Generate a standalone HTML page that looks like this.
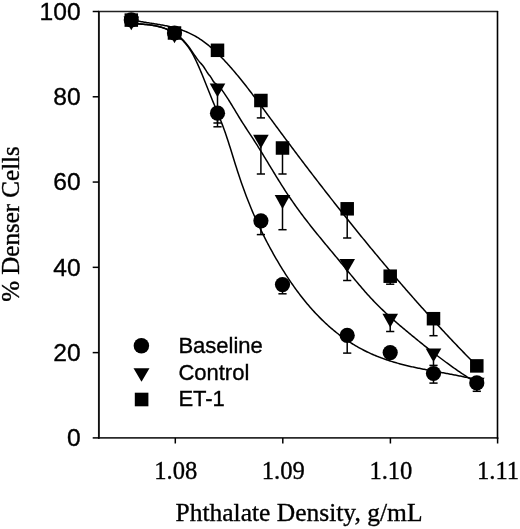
<!DOCTYPE html>
<html><head><meta charset="utf-8"><style>
html,body{margin:0;padding:0;background:#fff;width:520px;height:529px;overflow:hidden;font-family:"Liberation Sans",sans-serif;}
svg{display:block;will-change:transform;} text{stroke:#000;stroke-width:0.35px;}
</style></head><body>
<svg width="520" height="529" viewBox="0 0 520 529">
<rect width="520" height="529" fill="#fff"/>
<path d="M131.3,19.63 L132.3,19.86 L133.3,20.09 L134.3,20.31 L135.3,20.53 L136.3,20.73 L137.3,20.93 L138.3,21.13 L139.3,21.31 L140.3,21.50 L141.3,21.67 L142.3,21.85 L143.3,22.02 L144.3,22.18 L145.3,22.35 L146.3,22.51 L147.3,22.66 L148.3,22.82 L149.3,22.98 L150.3,23.13 L151.3,23.28 L152.3,23.44 L153.3,23.59 L154.3,23.75 L155.3,23.90 L156.3,24.06 L157.3,24.22 L158.3,24.39 L159.3,24.55 L160.3,24.72 L161.3,24.90 L162.3,25.07 L163.3,25.26 L164.3,25.44 L165.3,25.64 L166.3,25.84 L167.3,26.04 L168.3,26.26 L169.3,26.48 L170.3,26.71 L171.3,26.95 L172.3,27.19 L173.3,27.45 L174.3,27.71 L175.3,27.98 L176.3,28.27 L177.3,28.56 L178.3,28.87 L179.3,29.19 L180.3,29.52 L181.3,29.86 L182.3,30.22 L183.3,30.59 L184.3,30.97 L185.3,31.36 L186.3,31.77 L187.3,32.20 L188.3,32.64 L189.3,33.10 L190.3,33.57 L191.3,34.06 L192.3,34.56 L193.3,35.09 L194.3,35.63 L195.3,36.19 L196.3,36.77 L197.3,37.36 L198.3,37.98 L199.3,38.62 L200.3,39.27 L201.3,39.95 L202.3,40.64 L203.3,41.36 L204.3,42.09 L205.3,42.85 L206.3,43.62 L207.3,44.41 L208.3,45.21 L209.3,46.04 L210.3,46.88 L211.3,47.74 L212.3,48.62 L213.3,49.51 L214.3,50.42 L215.3,51.34 L216.3,52.28 L217.3,53.24 L218.3,54.21 L219.3,55.19 L220.3,56.19 L221.3,57.21 L222.3,58.23 L223.3,59.28 L224.3,60.33 L225.3,61.40 L226.3,62.48 L227.3,63.57 L228.3,64.68 L229.3,65.79 L230.3,66.92 L231.3,68.06 L232.3,69.21 L233.3,70.38 L234.3,71.55 L235.3,72.73 L236.3,73.92 L237.3,75.12 L238.3,76.34 L239.3,77.56 L240.3,78.79 L241.3,80.02 L242.3,81.27 L243.3,82.52 L244.3,83.78 L245.3,85.05 L246.3,86.33 L247.3,87.61 L248.3,88.90 L249.3,90.20 L250.3,91.50 L251.3,92.80 L252.3,94.12 L253.3,95.43 L254.3,96.76 L255.3,98.08 L256.3,99.41 L257.3,100.75 L258.3,102.09 L259.3,103.43 L260.3,104.77 L261.3,106.12 L262.3,107.47 L263.3,108.82 L264.3,110.18 L265.3,111.53 L266.3,112.89 L267.3,114.25 L268.3,115.60 L269.3,116.96 L270.3,118.32 L271.3,119.68 L272.3,121.04 L273.3,122.40 L274.3,123.76 L275.3,125.11 L276.3,126.47 L277.3,127.82 L278.3,129.18 L279.3,130.53 L280.3,131.88 L281.3,133.23 L282.3,134.57 L283.3,135.92 L284.3,137.26 L285.3,138.61 L286.3,139.95 L287.3,141.29 L288.3,142.63 L289.3,143.97 L290.3,145.30 L291.3,146.64 L292.3,147.97 L293.3,149.30 L294.3,150.63 L295.3,151.96 L296.3,153.29 L297.3,154.62 L298.3,155.94 L299.3,157.27 L300.3,158.59 L301.3,159.91 L302.3,161.23 L303.3,162.55 L304.3,163.87 L305.3,165.18 L306.3,166.49 L307.3,167.81 L308.3,169.12 L309.3,170.43 L310.3,171.74 L311.3,173.04 L312.3,174.35 L313.3,175.65 L314.3,176.95 L315.3,178.26 L316.3,179.55 L317.3,180.85 L318.3,182.15 L319.3,183.44 L320.3,184.74 L321.3,186.03 L322.3,187.32 L323.3,188.61 L324.3,189.90 L325.3,191.18 L326.3,192.47 L327.3,193.75 L328.3,195.03 L329.3,196.31 L330.3,197.59 L331.3,198.86 L332.3,200.14 L333.3,201.41 L334.3,202.69 L335.3,203.96 L336.3,205.22 L337.3,206.49 L338.3,207.76 L339.3,209.02 L340.3,210.28 L341.3,211.55 L342.3,212.80 L343.3,214.06 L344.3,215.32 L345.3,216.57 L346.3,217.83 L347.3,219.08 L348.3,220.33 L349.3,221.58 L350.3,222.82 L351.3,224.07 L352.3,225.31 L353.3,226.55 L354.3,227.79 L355.3,229.03 L356.3,230.27 L357.3,231.50 L358.3,232.73 L359.3,233.97 L360.3,235.20 L361.3,236.42 L362.3,237.65 L363.3,238.88 L364.3,240.10 L365.3,241.32 L366.3,242.54 L367.3,243.76 L368.3,244.98 L369.3,246.19 L370.3,247.40 L371.3,248.61 L372.3,249.82 L373.3,251.03 L374.3,252.24 L375.3,253.44 L376.3,254.64 L377.3,255.85 L378.3,257.04 L379.3,258.24 L380.3,259.44 L381.3,260.63 L382.3,261.82 L383.3,263.01 L384.3,264.20 L385.3,265.39 L386.3,266.57 L387.3,267.76 L388.3,268.94 L389.3,270.12 L390.3,271.30 L391.3,272.47 L392.3,273.65 L393.3,274.82 L394.3,275.99 L395.3,277.16 L396.3,278.32 L397.3,279.49 L398.3,280.65 L399.3,281.81 L400.3,282.97 L401.3,284.13 L402.3,285.29 L403.3,286.44 L404.3,287.59 L405.3,288.74 L406.3,289.89 L407.3,291.04 L408.3,292.18 L409.3,293.33 L410.3,294.47 L411.3,295.61 L412.3,296.74 L413.3,297.88 L414.3,299.01 L415.3,300.14 L416.3,301.27 L417.3,302.40 L418.3,303.52 L419.3,304.65 L420.3,305.77 L421.3,306.89 L422.3,308.01 L423.3,309.12 L424.3,310.24 L425.3,311.35 L426.3,312.46 L427.3,313.57 L428.3,314.67 L429.3,315.78 L430.3,316.88 L431.3,317.98 L432.3,319.08 L433.3,320.17 L434.3,321.27 L435.3,322.36 L436.3,323.45 L437.3,324.54 L438.3,325.62 L439.3,326.71 L440.3,327.79 L441.3,328.87 L442.3,329.95 L443.3,331.02 L444.3,332.10 L445.3,333.17 L446.3,334.24 L447.3,335.31 L448.3,336.37 L449.3,337.43 L450.3,338.50 L451.3,339.56 L452.3,340.61 L453.3,341.67 L454.3,342.72 L455.3,343.77 L456.3,344.82 L457.3,345.87 L458.3,346.91 L459.3,347.96 L460.3,349.00 L461.3,350.04 L462.3,351.07 L463.3,352.11 L464.3,353.14 L465.3,354.17 L466.3,355.20 L467.3,356.22 L468.3,357.25 L469.3,358.27 L470.3,359.29 L471.3,360.30 L472.3,361.32 L473.3,362.33 L474.3,363.34 L475.3,364.35 L476.3,365.36" fill="none" stroke="#000" stroke-width="1.5" stroke-linejoin="round"/>
<path d="M131.3,23.45 L132.3,23.50 L133.3,23.55 L134.3,23.60 L135.3,23.65 L136.3,23.71 L137.3,23.76 L138.3,23.83 L139.3,23.89 L140.3,23.96 L141.3,24.03 L142.3,24.11 L143.3,24.20 L144.3,24.29 L145.3,24.39 L146.3,24.49 L147.3,24.60 L148.3,24.73 L149.3,24.86 L150.3,25.00 L151.3,25.15 L152.3,25.31 L153.3,25.48 L154.3,25.67 L155.3,25.87 L156.3,26.08 L157.3,26.30 L158.3,26.54 L159.3,26.79 L160.3,27.05 L161.3,27.34 L162.3,27.63 L163.3,27.95 L164.3,28.28 L165.3,28.64 L166.3,29.01 L167.3,29.41 L168.3,29.83 L169.3,30.28 L170.3,30.76 L171.3,31.26 L172.3,31.80 L173.3,32.38 L174.3,32.98 L175.3,33.63 L176.3,34.31 L177.3,35.04 L178.3,35.81 L179.3,36.62 L180.3,37.47 L181.3,38.38 L182.3,39.33 L183.3,40.34 L184.3,41.39 L185.3,42.51 L186.3,43.67 L187.3,44.90 L188.3,46.19 L189.3,47.53 L190.3,48.93 L191.3,50.38 L192.3,51.84 L193.3,53.32 L194.3,54.80 L195.3,56.26 L196.3,57.69 L197.3,59.07 L198.3,60.40 L199.3,61.65 L200.3,62.81 L201.3,63.87 L202.3,64.94 L203.3,66.24 L204.3,67.73 L205.3,69.34 L206.3,70.97 L207.3,72.55 L208.3,73.98 L209.3,75.19 L210.3,76.36 L211.3,77.87 L212.3,79.58 L213.3,81.24 L214.3,82.57 L215.3,83.45 L216.3,84.17 L217.3,84.98 L218.3,85.90 L219.3,86.94 L220.3,88.06 L221.3,89.28 L222.3,90.57 L223.3,91.93 L224.3,93.34 L225.3,94.80 L226.3,96.30 L227.3,97.84 L228.3,99.40 L229.3,101.00 L230.3,102.61 L231.3,104.25 L232.3,105.90 L233.3,107.55 L234.3,109.22 L235.3,110.89 L236.3,112.56 L237.3,114.22 L238.3,115.87 L239.3,117.51 L240.3,119.13 L241.3,120.73 L242.3,122.31 L243.3,123.88 L244.3,125.43 L245.3,126.98 L246.3,128.51 L247.3,130.04 L248.3,131.56 L249.3,133.09 L250.3,134.61 L251.3,136.13 L252.3,137.66 L253.3,139.20 L254.3,140.74 L255.3,142.30 L256.3,143.87 L257.3,145.45 L258.3,147.04 L259.3,148.65 L260.3,150.26 L261.3,151.88 L262.3,153.50 L263.3,155.14 L264.3,156.78 L265.3,158.42 L266.3,160.06 L267.3,161.71 L268.3,163.36 L269.3,165.02 L270.3,166.67 L271.3,168.32 L272.3,169.97 L273.3,171.61 L274.3,173.25 L275.3,174.89 L276.3,176.52 L277.3,178.15 L278.3,179.76 L279.3,181.37 L280.3,182.97 L281.3,184.56 L282.3,186.14 L283.3,187.71 L284.3,189.26 L285.3,190.80 L286.3,192.33 L287.3,193.84 L288.3,195.34 L289.3,196.82 L290.3,198.29 L291.3,199.75 L292.3,201.19 L293.3,202.63 L294.3,204.05 L295.3,205.46 L296.3,206.86 L297.3,208.24 L298.3,209.62 L299.3,210.99 L300.3,212.34 L301.3,213.69 L302.3,215.03 L303.3,216.36 L304.3,217.68 L305.3,218.99 L306.3,220.29 L307.3,221.58 L308.3,222.87 L309.3,224.15 L310.3,225.43 L311.3,226.69 L312.3,227.95 L313.3,229.21 L314.3,230.46 L315.3,231.70 L316.3,232.94 L317.3,234.17 L318.3,235.40 L319.3,236.63 L320.3,237.85 L321.3,239.07 L322.3,240.28 L323.3,241.49 L324.3,242.70 L325.3,243.91 L326.3,245.11 L327.3,246.32 L328.3,247.52 L329.3,248.72 L330.3,249.92 L331.3,251.12 L332.3,252.32 L333.3,253.52 L334.3,254.73 L335.3,255.93 L336.3,257.13 L337.3,258.34 L338.3,259.54 L339.3,260.75 L340.3,261.96 L341.3,263.18 L342.3,264.39 L343.3,265.61 L344.3,266.83 L345.3,268.05 L346.3,269.27 L347.3,270.49 L348.3,271.71 L349.3,272.93 L350.3,274.14 L351.3,275.36 L352.3,276.57 L353.3,277.78 L354.3,278.98 L355.3,280.18 L356.3,281.38 L357.3,282.57 L358.3,283.76 L359.3,284.94 L360.3,286.11 L361.3,287.28 L362.3,288.45 L363.3,289.60 L364.3,290.75 L365.3,291.88 L366.3,293.01 L367.3,294.13 L368.3,295.24 L369.3,296.34 L370.3,297.43 L371.3,298.51 L372.3,299.57 L373.3,300.63 L374.3,301.67 L375.3,302.71 L376.3,303.73 L377.3,304.74 L378.3,305.74 L379.3,306.73 L380.3,307.72 L381.3,308.69 L382.3,309.66 L383.3,310.61 L384.3,311.56 L385.3,312.50 L386.3,313.43 L387.3,314.35 L388.3,315.27 L389.3,316.18 L390.3,317.08 L391.3,317.98 L392.3,318.87 L393.3,319.76 L394.3,320.63 L395.3,321.51 L396.3,322.38 L397.3,323.24 L398.3,324.10 L399.3,324.96 L400.3,325.81 L401.3,326.65 L402.3,327.50 L403.3,328.34 L404.3,329.18 L405.3,330.01 L406.3,330.85 L407.3,331.68 L408.3,332.51 L409.3,333.34 L410.3,334.16 L411.3,334.99 L412.3,335.81 L413.3,336.63 L414.3,337.45 L415.3,338.27 L416.3,339.09 L417.3,339.91 L418.3,340.72 L419.3,341.53 L420.3,342.34 L421.3,343.15 L422.3,343.95 L423.3,344.76 L424.3,345.56 L425.3,346.35 L426.3,347.15 L427.3,347.95 L428.3,348.74 L429.3,349.53 L430.3,350.31 L431.3,351.09 L432.3,351.88 L433.3,352.65 L434.3,353.43 L435.3,354.20 L436.3,354.97 L437.3,355.74 L438.3,356.50 L439.3,357.26 L440.3,358.02 L441.3,358.77 L442.3,359.52 L443.3,360.27 L444.3,361.01 L445.3,361.75 L446.3,362.49 L447.3,363.22 L448.3,363.95 L449.3,364.68 L450.3,365.40 L451.3,366.12 L452.3,366.83 L453.3,367.54 L454.3,368.25 L455.3,368.95 L456.3,369.65 L457.3,370.34 L458.3,371.03 L459.3,371.72 L460.3,372.40 L461.3,373.07 L462.3,373.75 L463.3,374.41 L464.3,375.08 L465.3,375.73 L466.3,376.39 L467.3,377.04 L468.3,377.68 L469.3,378.32 L470.3,378.95 L471.3,379.58 L472.3,380.20 L473.3,380.82 L474.3,381.44 L475.3,382.04 L476.3,382.65" fill="none" stroke="#000" stroke-width="1.5" stroke-linejoin="round"/>
<path d="M131.3,23.36 L132.3,23.47 L133.3,23.57 L134.3,23.66 L135.3,23.74 L136.3,23.82 L137.3,23.90 L138.3,23.97 L139.3,24.04 L140.3,24.11 L141.3,24.18 L142.3,24.25 L143.3,24.32 L144.3,24.40 L145.3,24.48 L146.3,24.57 L147.3,24.66 L148.3,24.76 L149.3,24.87 L150.3,24.98 L151.3,25.11 L152.3,25.25 L153.3,25.41 L154.3,25.57 L155.3,25.75 L156.3,25.95 L157.3,26.16 L158.3,26.40 L159.3,26.65 L160.3,26.92 L161.3,27.21 L162.3,27.52 L163.3,27.86 L164.3,28.22 L165.3,28.61 L166.3,29.02 L167.3,29.46 L168.3,29.93 L169.3,30.42 L170.3,30.95 L171.3,31.51 L172.3,32.11 L173.3,32.73 L174.3,33.39 L175.3,34.09 L176.3,34.82 L177.3,35.59 L178.3,36.40 L179.3,37.25 L180.3,38.14 L181.3,39.08 L182.3,40.05 L183.3,41.08 L184.3,42.15 L185.3,43.29 L186.3,44.49 L187.3,45.77 L188.3,47.12 L189.3,48.56 L190.3,50.08 L191.3,51.71 L192.3,53.43 L193.3,55.25 L194.3,57.17 L195.3,59.17 L196.3,61.25 L197.3,63.41 L198.3,65.63 L199.3,67.91 L200.3,70.24 L201.3,72.62 L202.3,75.04 L203.3,77.49 L204.3,79.97 L205.3,82.46 L206.3,84.97 L207.3,87.49 L208.3,90.00 L209.3,92.51 L210.3,95.01 L211.3,97.48 L212.3,99.93 L213.3,102.36 L214.3,104.77 L215.3,107.18 L216.3,109.59 L217.3,112.02 L218.3,114.46 L219.3,116.94 L220.3,119.45 L221.3,122.00 L222.3,124.61 L223.3,127.28 L224.3,130.02 L225.3,132.84 L226.3,135.75 L227.3,138.74 L228.3,141.80 L229.3,144.92 L230.3,148.09 L231.3,151.29 L232.3,154.51 L233.3,157.74 L234.3,160.96 L235.3,164.16 L236.3,167.33 L237.3,170.45 L238.3,173.52 L239.3,176.53 L240.3,179.49 L241.3,182.39 L242.3,185.24 L243.3,188.04 L244.3,190.79 L245.3,193.49 L246.3,196.14 L247.3,198.74 L248.3,201.30 L249.3,203.81 L250.3,206.28 L251.3,208.70 L252.3,211.09 L253.3,213.43 L254.3,215.74 L255.3,218.01 L256.3,220.24 L257.3,222.44 L258.3,224.60 L259.3,226.73 L260.3,228.83 L261.3,230.90 L262.3,232.94 L263.3,234.95 L264.3,236.93 L265.3,238.89 L266.3,240.83 L267.3,242.74 L268.3,244.63 L269.3,246.49 L270.3,248.34 L271.3,250.17 L272.3,251.98 L273.3,253.77 L274.3,255.54 L275.3,257.29 L276.3,259.02 L277.3,260.74 L278.3,262.43 L279.3,264.11 L280.3,265.77 L281.3,267.40 L282.3,269.02 L283.3,270.63 L284.3,272.21 L285.3,273.78 L286.3,275.32 L287.3,276.85 L288.3,278.37 L289.3,279.86 L290.3,281.34 L291.3,282.80 L292.3,284.24 L293.3,285.67 L294.3,287.08 L295.3,288.47 L296.3,289.84 L297.3,291.20 L298.3,292.55 L299.3,293.87 L300.3,295.18 L301.3,296.47 L302.3,297.75 L303.3,299.01 L304.3,300.26 L305.3,301.49 L306.3,302.70 L307.3,303.90 L308.3,305.08 L309.3,306.25 L310.3,307.41 L311.3,308.54 L312.3,309.67 L313.3,310.78 L314.3,311.87 L315.3,312.95 L316.3,314.01 L317.3,315.07 L318.3,316.10 L319.3,317.12 L320.3,318.13 L321.3,319.13 L322.3,320.11 L323.3,321.08 L324.3,322.03 L325.3,322.97 L326.3,323.90 L327.3,324.81 L328.3,325.71 L329.3,326.60 L330.3,327.48 L331.3,328.34 L332.3,329.19 L333.3,330.03 L334.3,330.85 L335.3,331.67 L336.3,332.47 L337.3,333.26 L338.3,334.03 L339.3,334.80 L340.3,335.55 L341.3,336.30 L342.3,337.03 L343.3,337.75 L344.3,338.46 L345.3,339.16 L346.3,339.84 L347.3,340.52 L348.3,341.18 L349.3,341.84 L350.3,342.48 L351.3,343.12 L352.3,343.74 L353.3,344.35 L354.3,344.96 L355.3,345.55 L356.3,346.14 L357.3,346.71 L358.3,347.28 L359.3,347.83 L360.3,348.38 L361.3,348.91 L362.3,349.44 L363.3,349.96 L364.3,350.47 L365.3,350.97 L366.3,351.47 L367.3,351.95 L368.3,352.43 L369.3,352.89 L370.3,353.35 L371.3,353.81 L372.3,354.25 L373.3,354.69 L374.3,355.11 L375.3,355.54 L376.3,355.95 L377.3,356.36 L378.3,356.75 L379.3,357.15 L380.3,357.53 L381.3,357.91 L382.3,358.28 L383.3,358.65 L384.3,359.00 L385.3,359.36 L386.3,359.70 L387.3,360.04 L388.3,360.37 L389.3,360.70 L390.3,361.02 L391.3,361.34 L392.3,361.65 L393.3,361.96 L394.3,362.26 L395.3,362.55 L396.3,362.84 L397.3,363.12 L398.3,363.40 L399.3,363.68 L400.3,363.95 L401.3,364.22 L402.3,364.48 L403.3,364.73 L404.3,364.99 L405.3,365.24 L406.3,365.48 L407.3,365.72 L408.3,365.96 L409.3,366.19 L410.3,366.42 L411.3,366.65 L412.3,366.87 L413.3,367.10 L414.3,367.31 L415.3,367.53 L416.3,367.74 L417.3,367.95 L418.3,368.16 L419.3,368.36 L420.3,368.56 L421.3,368.76 L422.3,368.96 L423.3,369.16 L424.3,369.35 L425.3,369.54 L426.3,369.73 L427.3,369.92 L428.3,370.11 L429.3,370.30 L430.3,370.48 L431.3,370.67 L432.3,370.85 L433.3,371.04 L434.3,371.22 L435.3,371.40 L436.3,371.58 L437.3,371.76 L438.3,371.94 L439.3,372.12 L440.3,372.30 L441.3,372.48 L442.3,372.67 L443.3,372.85 L444.3,373.03 L445.3,373.21 L446.3,373.40 L447.3,373.58 L448.3,373.76 L449.3,373.95 L450.3,374.14 L451.3,374.33 L452.3,374.52 L453.3,374.71 L454.3,374.90 L455.3,375.10 L456.3,375.29 L457.3,375.49 L458.3,375.69 L459.3,375.90 L460.3,376.10 L461.3,376.31 L462.3,376.52 L463.3,376.74 L464.3,376.95 L465.3,377.17 L466.3,377.39 L467.3,377.62 L468.3,377.85 L469.3,378.08 L470.3,378.32 L471.3,378.56 L472.3,378.80 L473.3,379.05 L474.3,379.30 L475.3,379.55 L476.3,379.81" fill="none" stroke="#000" stroke-width="1.5" stroke-linejoin="round"/>
<line x1="217.5" y1="95" x2="217.5" y2="126.8" stroke="#000" stroke-width="1.5"/>
<line x1="213.4" y1="126.8" x2="221.6" y2="126.8" stroke="#000" stroke-width="1.5"/>
<line x1="217.5" y1="118" x2="217.5" y2="123.0" stroke="#000" stroke-width="1.5"/>
<line x1="213.4" y1="123.0" x2="221.6" y2="123.0" stroke="#000" stroke-width="1.5"/>
<line x1="260.9" y1="106" x2="260.9" y2="117.9" stroke="#000" stroke-width="1.5"/>
<line x1="256.79999999999995" y1="117.9" x2="265.0" y2="117.9" stroke="#000" stroke-width="1.5"/>
<line x1="260.9" y1="147" x2="260.9" y2="174.0" stroke="#000" stroke-width="1.5"/>
<line x1="256.79999999999995" y1="174.0" x2="265.0" y2="174.0" stroke="#000" stroke-width="1.5"/>
<line x1="260.9" y1="228" x2="260.9" y2="234.6" stroke="#000" stroke-width="1.5"/>
<line x1="256.79999999999995" y1="234.6" x2="265.0" y2="234.6" stroke="#000" stroke-width="1.5"/>
<line x1="282.5" y1="154" x2="282.5" y2="174.0" stroke="#000" stroke-width="1.5"/>
<line x1="278.4" y1="174.0" x2="286.6" y2="174.0" stroke="#000" stroke-width="1.5"/>
<line x1="282.5" y1="207" x2="282.5" y2="229.7" stroke="#000" stroke-width="1.5"/>
<line x1="278.4" y1="229.7" x2="286.6" y2="229.7" stroke="#000" stroke-width="1.5"/>
<line x1="282.5" y1="291" x2="282.5" y2="293.8" stroke="#000" stroke-width="1.5"/>
<line x1="278.4" y1="293.8" x2="286.6" y2="293.8" stroke="#000" stroke-width="1.5"/>
<line x1="347.2" y1="215" x2="347.2" y2="238.0" stroke="#000" stroke-width="1.5"/>
<line x1="343.09999999999997" y1="238.0" x2="351.3" y2="238.0" stroke="#000" stroke-width="1.5"/>
<line x1="347.2" y1="271" x2="347.2" y2="280.5" stroke="#000" stroke-width="1.5"/>
<line x1="343.09999999999997" y1="280.5" x2="351.3" y2="280.5" stroke="#000" stroke-width="1.5"/>
<line x1="347.2" y1="342" x2="347.2" y2="353.1" stroke="#000" stroke-width="1.5"/>
<line x1="343.09999999999997" y1="353.1" x2="351.3" y2="353.1" stroke="#000" stroke-width="1.5"/>
<line x1="390.2" y1="282" x2="390.2" y2="284.2" stroke="#000" stroke-width="1.5"/>
<line x1="386.09999999999997" y1="284.2" x2="394.3" y2="284.2" stroke="#000" stroke-width="1.5"/>
<line x1="390.2" y1="325" x2="390.2" y2="331.5" stroke="#000" stroke-width="1.5"/>
<line x1="386.09999999999997" y1="331.5" x2="394.3" y2="331.5" stroke="#000" stroke-width="1.5"/>
<line x1="433.5" y1="325" x2="433.5" y2="335.7" stroke="#000" stroke-width="1.5"/>
<line x1="429.4" y1="335.7" x2="437.6" y2="335.7" stroke="#000" stroke-width="1.5"/>
<line x1="433.5" y1="361" x2="433.5" y2="365.4" stroke="#000" stroke-width="1.5"/>
<line x1="429.4" y1="365.4" x2="437.6" y2="365.4" stroke="#000" stroke-width="1.5"/>
<line x1="433.5" y1="380" x2="433.5" y2="383.1" stroke="#000" stroke-width="1.5"/>
<line x1="429.4" y1="383.1" x2="437.6" y2="383.1" stroke="#000" stroke-width="1.5"/>
<line x1="476.8" y1="389" x2="476.8" y2="391.3" stroke="#000" stroke-width="1.5"/>
<line x1="472.7" y1="391.3" x2="480.90000000000003" y2="391.3" stroke="#000" stroke-width="1.5"/>
<circle cx="131.3" cy="19.9" r="7.6" fill="#000"/>
<circle cx="174.5" cy="33.0" r="7.6" fill="#000"/>
<circle cx="217.5" cy="113.2" r="7.6" fill="#000"/>
<circle cx="260.9" cy="220.8" r="7.6" fill="#000"/>
<circle cx="282.5" cy="284.6" r="7.6" fill="#000"/>
<circle cx="347.2" cy="335.4" r="7.6" fill="#000"/>
<circle cx="390.2" cy="352.6" r="7.6" fill="#000"/>
<circle cx="433.5" cy="373.5" r="7.6" fill="#000"/>
<circle cx="476.8" cy="382.9" r="7.6" fill="#000"/>
<polygon points="123.50,16.5 139.10,16.5 131.30,30.30" fill="#000"/>
<polygon points="166.70,29.5 182.30,29.5 174.50,43.30" fill="#000"/>
<polygon points="209.70,83.5 225.30,83.5 217.50,97.30" fill="#000"/>
<polygon points="253.10,134.8 268.70,134.8 260.90,148.60" fill="#000"/>
<polygon points="274.70,195.1 290.30,195.1 282.50,208.90" fill="#000"/>
<polygon points="339.40,258.9 355.00,258.9 347.20,272.70" fill="#000"/>
<polygon points="382.40,313.8 398.00,313.8 390.20,327.60" fill="#000"/>
<polygon points="425.70,348.5 441.30,348.5 433.50,362.30" fill="#000"/>
<polygon points="469.00,377.8 484.60,377.8 476.80,391.60" fill="#000"/>
<rect x="124.55" y="13.35" width="13.5" height="13.5" fill="#000"/>
<rect x="167.75" y="26.25" width="13.5" height="13.5" fill="#000"/>
<rect x="210.75" y="43.55" width="13.5" height="13.5" fill="#000"/>
<rect x="254.15" y="93.75" width="13.5" height="13.5" fill="#000"/>
<rect x="275.75" y="141.25" width="13.5" height="13.5" fill="#000"/>
<rect x="340.45" y="202.05" width="13.5" height="13.5" fill="#000"/>
<rect x="383.45" y="269.45" width="13.5" height="13.5" fill="#000"/>
<rect x="426.75" y="311.95" width="13.5" height="13.5" fill="#000"/>
<rect x="470.05" y="359.15" width="13.5" height="13.5" fill="#000"/>
<line x1="98.0" y1="11.5" x2="498.1" y2="11.5" stroke="#222" stroke-width="1.3"/>
<line x1="98.0" y1="437.9" x2="498.3" y2="437.9" stroke="#2a2a2a" stroke-width="1.8"/>
<line x1="98.9" y1="10.9" x2="98.9" y2="438.79999999999995" stroke="#111" stroke-width="1.9"/>
<line x1="497.5" y1="10.9" x2="497.5" y2="438.79999999999995" stroke="#000" stroke-width="1.6"/>
<line x1="92.7" y1="437.90" x2="98.9" y2="437.90" stroke="#000" stroke-width="1.5"/>
<text x="80.6" y="445.50" text-anchor="end" font-family="Liberation Sans" font-size="24.6">0</text>
<line x1="92.7" y1="352.62" x2="98.9" y2="352.62" stroke="#000" stroke-width="1.5"/>
<text x="80.6" y="360.92" text-anchor="end" font-family="Liberation Sans" font-size="24.6">20</text>
<line x1="92.7" y1="267.34" x2="98.9" y2="267.34" stroke="#000" stroke-width="1.5"/>
<text x="80.6" y="275.64" text-anchor="end" font-family="Liberation Sans" font-size="24.6">40</text>
<line x1="92.7" y1="182.06" x2="98.9" y2="182.06" stroke="#000" stroke-width="1.5"/>
<text x="80.6" y="190.36" text-anchor="end" font-family="Liberation Sans" font-size="24.6">60</text>
<line x1="92.7" y1="96.78" x2="98.9" y2="96.78" stroke="#000" stroke-width="1.5"/>
<text x="80.6" y="105.08" text-anchor="end" font-family="Liberation Sans" font-size="24.6">80</text>
<line x1="92.7" y1="11.50" x2="98.9" y2="11.50" stroke="#000" stroke-width="1.5"/>
<text x="80.6" y="19.80" text-anchor="end" font-family="Liberation Sans" font-size="24.6">100</text>
<line x1="175.3" y1="437.9" x2="175.3" y2="443.5" stroke="#000" stroke-width="1.5"/>
<text x="175.8" y="478.5" text-anchor="middle" font-family="Liberation Serif" font-size="24.6">1.08</text>
<line x1="282.8" y1="437.9" x2="282.8" y2="443.5" stroke="#000" stroke-width="1.5"/>
<text x="283.3" y="478.5" text-anchor="middle" font-family="Liberation Serif" font-size="24.6">1.09</text>
<line x1="390.4" y1="437.9" x2="390.4" y2="443.5" stroke="#000" stroke-width="1.5"/>
<text x="390.9" y="478.5" text-anchor="middle" font-family="Liberation Serif" font-size="24.6">1.10</text>
<line x1="497.6" y1="437.9" x2="497.6" y2="443.5" stroke="#000" stroke-width="1.5"/>
<text x="498.1" y="478.5" text-anchor="middle" font-family="Liberation Serif" font-size="24.6">1.11</text>
<text x="299" y="521" text-anchor="middle" font-family="Liberation Serif" font-size="25.5">Phthalate Density, g/mL</text>
<text transform="translate(19,224) rotate(-90)" text-anchor="middle" font-family="Liberation Serif" font-size="25">% Denser Cells</text>
<circle cx="141.4" cy="345.8" r="7.75" fill="#000"/>
<polygon points="133.50,368.2 149.50,368.2 141.50,381.80" fill="#000"/>
<rect x="134.80" y="392.70" width="13.6" height="13.6" fill="#000"/>
<text x="178.4" y="352.7" font-family="Liberation Sans" font-size="22">Baseline</text>
<text x="178.4" y="379.6" font-family="Liberation Sans" font-size="22">Control</text>
<text x="178.4" y="406.2" font-family="Liberation Sans" font-size="22">ET-1</text>
</svg>
</body></html>
